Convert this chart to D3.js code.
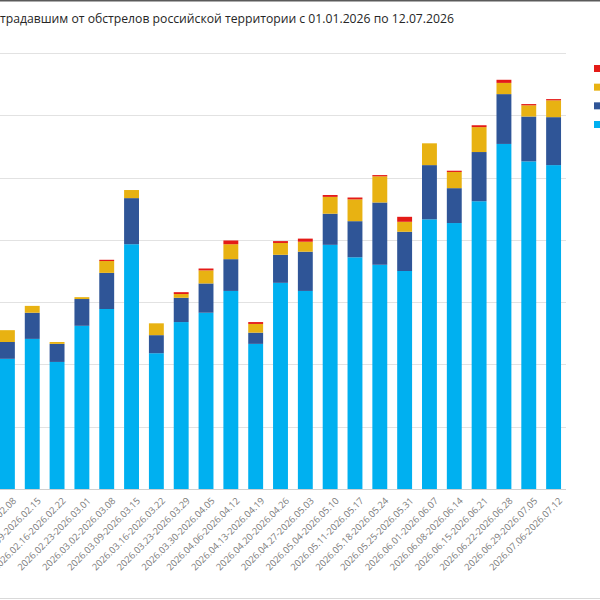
<!DOCTYPE html>
<html>
<head>
<meta charset="utf-8">
<script src="https://cdn.jsdelivr.net/npm/d3@7"></script>
<style>
  html, body { margin: 0; padding: 0; background: #fff; }
  svg { display: block; font-family: "Open Sans", "Noto Sans", sans-serif; }
</style>
</head>
<body>
<svg id="chart" width="600" height="600"></svg>
<script>
'use strict'

// weeks shown (the reference crop starts at the 02.02 week)
const weeks = [
  '2026.02.02-2026.02.08', '2026.02.09-2026.02.15', '2026.02.16-2026.02.22',
  '2026.02.23-2026.03.01', '2026.03.02-2026.03.08', '2026.03.09-2026.03.15',
  '2026.03.16-2026.03.22', '2026.03.23-2026.03.29', '2026.03.30-2026.04.05',
  '2026.04.06-2026.04.12', '2026.04.13-2026.04.19', '2026.04.20-2026.04.26',
  '2026.04.27-2026.05.03', '2026.05.04-2026.05.10', '2026.05.11-2026.05.17',
  '2026.05.18-2026.05.24', '2026.05.25-2026.05.31', '2026.06.01-2026.06.07',
  '2026.06.08-2026.06.14', '2026.06.15-2026.06.21', '2026.06.22-2026.06.28',
  '2026.06.29-2026.07.05', '2026.07.06-2026.07.12'
]

// stacked series, bottom to top
const lightBlue = [209, 241, 204, 262, 289, 393, 218, 268, 283, 318, 233, 331, 318, 392, 372, 360, 350, 433, 427, 462, 554, 526, 520]
const darkBlue = [27, 42, 29, 43, 58, 74, 29, 39, 47, 51, 18, 45, 63, 50, 58, 100, 63, 87, 56, 79, 80, 72, 77]
const yellow = [19, 11, 3, 3, 19, 13, 19, 6, 21, 24, 14, 19, 16, 27, 35, 42, 16, 35, 26, 40, 18, 18, 27]
const red = [0, 0, 0, 0, 2, 0, 0, 3, 3, 6, 3, 3, 5, 3, 3, 2, 8, 0, 2, 3, 5, 2, 2]

const yTicks = [0, 100, 200, 300, 400, 500, 600, 700]
const seriesKeys = ['lightBlue', 'darkBlue', 'yellow', 'red']
const seriesColors = {
  lightBlue: '#00B0F0',
  darkBlue: '#2F5597',
  yellow: '#E8B212',
  red: '#E41B17'
}

const title = 'традавшим от обстрелов российской территории с 01.01.2026 по 12.07.2026'

const rows = weeks.map((week, i) => ({
  week,
  lightBlue: lightBlue[i],
  darkBlue: darkBlue[i],
  yellow: yellow[i],
  red: red[i]
}))

const svg = d3.select('#chart')

// frame lines of the cropped screenshot
svg.append('line')
  .attr('x1', 0).attr('x2', 600).attr('y1', 0.5).attr('y2', 0.5)
  .attr('stroke', '#5a5a5a').attr('stroke-width', 2)
svg.append('line')
  .attr('x1', 0).attr('x2', 600).attr('y1', 598.5).attr('y2', 598.5)
  .attr('stroke', '#d9d9d9')

svg.append('text')
  .attr('x', 0)
  .attr('y', 23)
  .attr('font-size', 12.2)
  .attr('fill', '#262626')
  .text(title)

const x = d3.scaleBand()
  .domain(weeks)
  .range([-5, 566])
  .paddingInner(0.4)
  .paddingOuter(0.2)

const y = d3.scaleLinear()
  .domain([0, 700])
  .range([489, 53])

// gridlines
svg.append('g')
  .selectAll('line')
  .data(yTicks)
  .join('line')
  .attr('x1', -5)
  .attr('x2', 566)
  .attr('y1', d => Math.round(y(d)) + 0.5)
  .attr('y2', d => Math.round(y(d)) + 0.5)
  .attr('stroke', d => d === 0 ? '#d0d0d0' : '#e2e2e2')

const stacked = d3.stack().keys(seriesKeys)(rows)

svg.append('g')
  .selectAll('g')
  .data(stacked)
  .join('g')
  .attr('fill', s => seriesColors[s.key])
  .selectAll('rect')
  .data(s => s)
  .join('rect')
  .attr('x', d => x(d.data.week))
  .attr('width', x.bandwidth())
  .attr('y', d => y(d[1]))
  .attr('height', d => Math.max(0, y(d[0]) - y(d[1])))

// rotated category labels (the leftmost ones are cut by the crop, as in the reference)
svg.append('g')
  .selectAll('text')
  .data(weeks)
  .join('text')
  .attr('transform', d => `translate(${x(d) + x.bandwidth() / 2 + 7}, 499) rotate(-45)`)
  .attr('text-anchor', 'end')
  .attr('dy', '0.35em')
  .attr('font-size', 9.4)
  .attr('fill', '#7a7a7a')
  .text(d => d)

// legend swatches (labels fall outside the crop)
const legendKeys = seriesKeys.slice().reverse()
const legendY = d3.scalePoint()
  .domain(legendKeys)
  .range([65, 121])

svg.append('g')
  .selectAll('rect')
  .data(legendKeys)
  .join('rect')
  .attr('x', 594)
  .attr('y', d => legendY(d))
  .attr('width', 7)
  .attr('height', 7)
  .attr('fill', d => seriesColors[d])
</script>
</body>
</html>
